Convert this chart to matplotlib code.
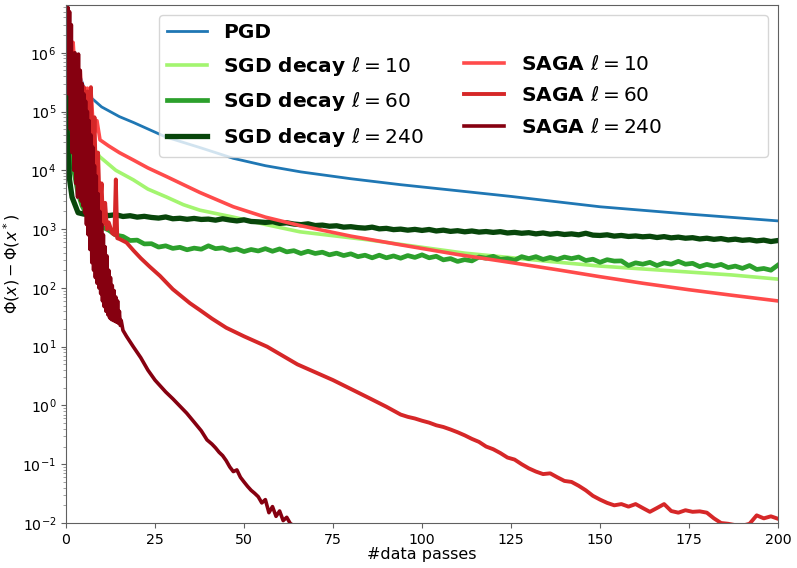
import numpy as np
import matplotlib
matplotlib.use("Agg")
import matplotlib.pyplot as plt
from matplotlib.lines import Line2D

# values (x = data passes, y = Phi(x) - Phi(x*))
pgd_x = [0, 1, 2, 3, 5, 6.7, 10, 15, 19, 28, 38, 47, 56, 66, 80, 94, 110, 125, 150, 175, 200]
pgd_y = [6e6, 2.5e6, 1.2e6, 6e5, 2.6e5, 1.8e5, 1.2e5, 8.2e4, 6.5e4, 3.7e4, 2.4e4, 1.6e4,
         1.2e4, 9.4e3, 7.2e3, 5.7e3, 4.5e3, 3.6e3, 2.4e3, 1.8e3, 1.38e3]

sgd10_x = [0, 1, 2, 3.5, 5, 6.7, 9.5, 14, 18.9, 23, 28.3, 33, 37.6, 47, 56, 65.7, 84.6, 94,
           112, 120, 135, 150, 170, 187, 200]
sgd10_y = [6e6, 1e6, 3.5e5, 1.2e5, 6e4, 3e4, 1.7e4, 1e4, 6.9e3, 4.8e3, 3.5e3, 2.6e3, 2.1e3,
           1.6e3, 1.2e3, 900, 660, 550, 390, 350, 285, 235, 195, 166, 141]

sgd60_x = [0, 0.3, 1.1, 2, 3.4, 4.5, 6, 8] + list(range(10, 201, 2))
sgd60_y = [6e6, 1.1e5, 3e4, 1.15e4, 4e3, 2.5e3, 1.7e3, 1.3e3,
           1100, 960, 790, 750, 640, 650, 560, 565, 495, 520, 470, 490, 445, 475, 455, 520,
           465, 480, 435, 460, 415, 450, 425, 465, 420, 460, 410, 430, 385, 420, 385, 405,
           365, 390, 355, 380, 340, 360, 325, 360, 325, 350, 320, 355, 330, 365, 325, 345,
           300, 315, 282, 303, 288, 335, 320, 345, 305, 315, 296, 340, 315, 340, 305, 330,
           305, 335, 315, 335, 292, 308, 272, 302, 286, 288, 240, 267, 253, 272, 240, 266,
           253, 283, 253, 262, 230, 251, 234, 251, 222, 235, 215, 240, 206, 214, 200, 245]

sgd240_x = [0, 0.3, 1, 1.7, 3.4, 5, 8] + list(range(10, 201, 2))
sgd240_y = [6e6, 5e4, 7e3, 3.5e3, 1.9e3, 1.8e3, 1.75e3,
            1780, 1700, 1760, 1640, 1690, 1600, 1650, 1580, 1540, 1610, 1500, 1530,
            1470, 1520, 1460, 1480, 1420, 1500, 1430, 1380, 1440, 1350, 1330, 1300,
            1340, 1250, 1280, 1220, 1190, 1230, 1150, 1170, 1120, 1140, 1080, 1100,
            1060, 1040, 1080, 1010, 1030, 980, 1000, 960, 990, 950, 985, 930,
            960, 915, 940, 900, 930, 890, 910, 880, 905, 860, 880, 850,
            870, 830, 860, 820, 845, 810, 830, 800, 850, 790, 780, 800,
            760, 780, 750, 765, 740, 755, 720, 745, 710, 730, 700, 715,
            680, 700, 670, 690, 655, 675, 645, 660, 630, 650, 615, 640]

saga10_x = [0, 0.5, 1, 1.5, 2, 2.5, 3, 3.5, 4, 4.5, 5, 5.5, 6, 6.5, 7, 7.5, 8.1, 8.7, 9.55,
            12, 15, 18.9, 23, 28.3, 33, 37.6, 47, 56, 65.7, 80, 94, 110, 125, 138.8, 150, 162,
            175, 187, 200]
saga10_y = [6e6, 2e6, 3e6, 8e5, 1.5e6, 5e5, 8e5, 3e5, 5e5, 1.5e5, 2.6e5, 1e5, 2.5e5, 9e4,
            2.4e5, 7.5e4, 4.4e4, 7e4, 3.3e4, 2.6e4, 2e4, 1.5e4, 1.1e4, 7.8e3, 5.7e3, 4.2e3,
            2.4e3, 1.6e3, 1.15e3, 760, 540, 370, 270, 200, 155, 120, 93, 75, 60]

saga60_x = [0, 0.5, 1, 1.5, 2, 2.5, 3, 3.5, 4, 4.5, 5, 5.5, 6, 6.5, 7, 7.5, 8, 8.5, 9, 9.5,
            10, 10.4, 11, 11.5, 12, 13, 13.6, 14, 14.4, 15, 17, 19, 21, 23.5, 26.4, 30, 34.8,
            37.6, 41, 45, 50, 56.5, 65, 75, 85, 90] + list(range(94, 201, 2))
saga60_y = [6e6, 8e5, 2e6, 3e5, 1e6, 1e5, 5e5, 6e4, 3e5, 3e4, 2.6e5, 2e4, 2.2e5, 1e4, 2.6e5,
            6e3, 8e4, 3e3, 2e4, 2e3, 6e3, 1.2e3, 2.8e3, 1e3, 1.3e3, 850, 800, 7e3, 700, 680,
            590, 430, 320, 230, 160, 95, 55, 42, 30, 21, 15, 10, 5, 2.7, 1.35, 0.95,
            0.70, 0.64, 0.60, 0.55, 0.51, 0.46, 0.43, 0.39, 0.35, 0.31, 0.27, 0.24, 0.20, 0.18,
            0.155, 0.13, 0.12, 0.10, 0.085, 0.075, 0.068, 0.070, 0.060, 0.052, 0.050, 0.043,
            0.036, 0.029, 0.025, 0.022, 0.020, 0.021, 0.019, 0.021, 0.018, 0.0155, 0.018,
            0.021, 0.016, 0.015, 0.0165, 0.0155, 0.0158, 0.015, 0.012, 0.0100, 0.0097,
            0.0092, 0.0090, 0.0097, 0.0135, 0.012, 0.013, 0.0118]

# SAGA l=240: oscillating start (every 0.25 pass), then smooth decay
saga240_x = list(np.arange(0, 15.75, 0.25)) + [16, 17, 18.9, 21, 23, 25, 28, 30, 33.9, 36, 38,
                                                39.6] + list(range(41, 65))
saga240_y = [6.5e6, 4e6, 6e6, 2e5, 5e6, 5e4, 3e6, 2e4, 9e5, 1e4, 1e6, 6e3, 9e5, 3.5e3, 9.5e5,
             4e3, 5e5, 3e3, 3e5, 2.5e3, 2e5, 1.9e3, 1.5e5, 1.2e3, 1e5, 800, 7e4, 450, 4e4, 270,
             2.5e4, 200, 1.2e4, 150, 8e3, 120, 4e3, 100, 2e3, 80, 1.2e3, 60, 800, 48, 500, 40,
             350, 35, 200, 31, 150, 29, 110, 28, 90, 27, 70, 26, 60, 25, 40, 23, 28,
             19, 15, 10, 6.5, 4, 2.7, 1.7, 1.3, 0.74, 0.52, 0.37, 0.26,
             0.22, 0.19, 0.16, 0.14, 0.115, 0.09, 0.075, 0.08, 0.06, 0.05, 0.042, 0.036,
             0.032, 0.028, 0.022, 0.025, 0.015, 0.019, 0.013, 0.016, 0.011, 0.0125, 0.0098,
             0.009]

colors = {
    "pgd": "#1f77b4",
    "sgd10": "#a3f56f",
    "sgd60": "#2ca02c",
    "sgd240": "#08460b",
    "saga10": "#ff4b4b",
    "saga60": "#d62728",
    "saga240": "#860010",
}

fig = plt.figure(figsize=(7.97, 5.68), dpi=100)
ax = fig.add_axes([0.0828, 0.0792, 0.8934, 0.912])

ax.plot(pgd_x, pgd_y, color=colors["pgd"], lw=2, label="PGD")
ax.plot(sgd10_x, sgd10_y, color=colors["sgd10"], lw=2.6, label=r"SGD decay $\ell=10$")
ax.plot(sgd60_x, sgd60_y, color=colors["sgd60"], lw=3.4, label=r"SGD decay $\ell=60$")
ax.plot(sgd240_x, sgd240_y, color=colors["sgd240"], lw=3.8, label=r"SGD decay $\ell=240$")
ax.plot(saga10_x, saga10_y, color=colors["saga10"], lw=2.6, label=r"SAGA $\ell=10$")
ax.plot(saga60_x, saga60_y, color=colors["saga60"], lw=2.8, label=r"SAGA $\ell=60$")
ax.plot(saga240_x, saga240_y, color=colors["saga240"], lw=2.6, label=r"SAGA $\ell=240$")

ax.set_yscale("log")
ax.set_xlim(0, 200)
ax.set_ylim(1e-2, 6.5e6)
ax.set_xticks([0, 25, 50, 75, 100, 125, 150, 175, 200])
ax.tick_params(labelsize=10.2, color="#606060")
ax.tick_params(which="minor", color="#909090")
for sp in ax.spines.values():
    sp.set_color("#606060")
ax.set_xlabel("#data passes", fontsize=11.5)
ax.set_ylabel(r"$\Phi(x)-\Phi(x^*)$", fontsize=11.5)
ax.xaxis.set_label_coords(0.5, -0.047)
ax.yaxis.set_label_coords(-0.062, 0.5)

# empty first slot in the second legend column (invisible placeholder text sets its width)
handles, labels = ax.get_legend_handles_labels()
blank = Line2D([], [], color="none")
handles = handles[:4] + [blank] + handles[4:]
labels = labels[:4] + ["WWWWWWWWWWN"] + labels[4:]
leg = ax.legend(handles, labels, ncol=2, loc="upper right",
                prop={"size": 14.5, "weight": "bold"}, columnspacing=2.0, labelspacing=0.62)
leg.get_texts()[4].set_color("none")

fig.savefig("out.png", dpi=100)
